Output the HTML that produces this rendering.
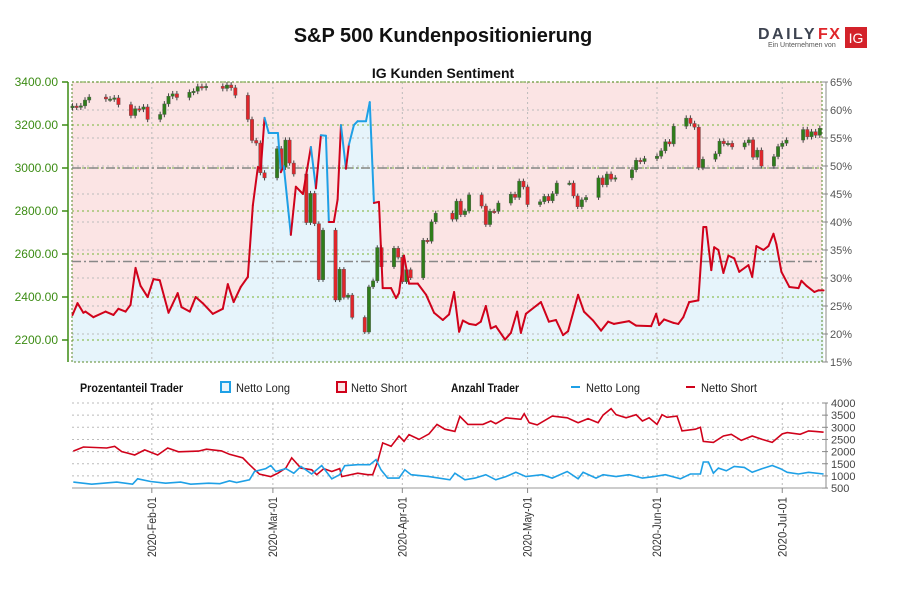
<!DOCTYPE html>
<html><head><meta charset="utf-8"><style>
body{margin:0;background:#fff;}
svg text{font-family:"Liberation Sans",sans-serif;}
.n{font-family:"Liberation Sans Narrow","Liberation Sans",sans-serif;}
</style></head><body>
<svg id="c" width="900" height="600" viewBox="0 0 900 600" xmlns="http://www.w3.org/2000/svg">
<text x="443" y="42" text-anchor="middle" font-size="20" font-weight="bold" fill="#111">S&amp;P 500 Kundenpositionierung</text>
<text x="443" y="78" text-anchor="middle" font-size="14" font-weight="bold" fill="#111">IG Kunden Sentiment</text>
<g>
<text x="758" y="39" font-size="16" font-weight="bold" fill="#3d4350" letter-spacing="2.5">DAILY</text>
<text x="818" y="39" font-size="16" font-weight="bold" fill="#e0262b" letter-spacing="1.5">FX</text>
<text x="768" y="47" font-size="7" fill="#555">Ein Unternehmen von</text>
<rect x="845" y="27" width="22" height="21" fill="#d3222a"/>
<text x="856" y="43" text-anchor="middle" font-size="14" fill="#fff">IG</text>
</g>
<g id="main"></g>
<g id="bottom"></g>
<g font-size="12">
<text class="n" x="80" y="392" font-weight="bold" fill="#111" textLength="103" lengthAdjust="spacingAndGlyphs">Prozentanteil Trader</text>
<rect x="221" y="382" width="9" height="10" fill="#e8f4fb" stroke="#1ea0e6" stroke-width="2"/>
<text class="n" x="236" y="392" fill="#222" textLength="54" lengthAdjust="spacingAndGlyphs">Netto Long</text>
<rect x="337" y="382" width="9" height="10" fill="#fbe4e4" stroke="#d0021b" stroke-width="2"/>
<text class="n" x="351" y="392" fill="#222" textLength="56" lengthAdjust="spacingAndGlyphs">Netto Short</text>
<text class="n" x="451" y="392" font-weight="bold" fill="#111" textLength="68" lengthAdjust="spacingAndGlyphs">Anzahl Trader</text>
<rect x="571" y="386" width="9" height="2" fill="#1ea0e6"/>
<text class="n" x="586" y="392" fill="#222" textLength="54" lengthAdjust="spacingAndGlyphs">Netto Long</text>
<rect x="686" y="386" width="9" height="2" fill="#d0021b"/>
<text class="n" x="701" y="392" fill="#222" textLength="56" lengthAdjust="spacingAndGlyphs">Netto Short</text>
</g>
</svg>
<script>
// price closes per trading day, Jan 13 – Jul 10 2020
const closes=[3288,3283,3289,3316,3330,3321,3321,3326,3295,3244,3276,3273,3284,3226,
3249,3298,3334,3345,3328,3352,3357,3379,3374,3380,3370,3386,3373,3338,3226,3128,3116,2978,2954,
3090,3003,3130,3023,2972,2746,2882,2741,2480,2711,2386,2529,2398,2409,2305,2237,2447,2475,2630,2541,2627,2585,
2471,2527,2489,2664,2659,2750,2790,2762,2846,2783,2800,2875,2823,2737,2799,2798,2837,2878,2863,2939,2912,
2830,2843,2868,2848,2881,2930,2930,2870,2820,2852,2863,2954,2922,2972,2948,2955,2992,3036,3030,3044,
3055,3080,3122,3112,3194,3232,3207,3190,3002,3041,3066,3125,3113,3115,3098,3117,3131,3050,3083,3009,3053,3100,
3115,3130,3179,3145,3169,3152,3185];
const holidays=[7,35,88,133,172];
const priceTicks=[3400,3200,3000,2800,2600,2400,2200];
const pctTicks=[65,60,55,50,45,40,35,30,25,20,15];
const refLevels=[3000,2565];
// sentiment % net long: day offsets & values
const sentDays=[0,1.2,2.6,3.1,5,7.9,9.8,11,12.7,13.9,15.1,16.3,18,19.4,20.9,23,25.2,26.1,28.1,29.5,31.2,33.6,36,37.2,38.6,40.3,42,43.2,44.4,45.1,46,47,49.2,49.9,50.6,52.3,53.5,55.2,57.1,58.3,59.5,60.7,61.4,62.6,63.5,64.3,65.5,66.2,67.4,68.3,70.3,71.2,72.2,73.4,74.3,76.3,77.5,78.2,79.4,80.6,82.7,84.7,86.6,88.7,90.2,91.4,92.6,93.5,95,96.6,97.8,99,100.2,101.4,103.6,105,106.5,107.4,108.6,111,112.2,114.1,115.8,117.5,118.7,121.1,122.5,124.7,126.6,128.3,129.7,133.3,135,138.6,139.8,140.5,141.7,143.9,145.1,146.3,147.7,149.9,151.1,151.8,153,153.7,154.7,155.9,157.1,158.5,159.7,161.9,162.8,163.8,165.5,166.7,167.9,168.6,169.8,171.7,173.9,174.6,175.8,177.7,178.7,179.9];
const sentVals=[23.4,25.5,23.8,24,23,24,23.4,24.5,24,25.2,31.8,28.6,26.6,29.8,29.6,23.8,27.3,24.8,24,26.6,25.5,23.6,24.5,28.9,25.7,28.4,30.2,43,49.8,49.5,58.6,55.9,55.9,48.9,50,37.7,46.3,45,53.4,46,55.5,55.4,40,40,44,57.3,49.5,53.8,57.3,58,58,61.4,43.4,43.6,28.2,28.2,26.4,27.3,34,29,29,27,23.8,22.5,23.5,27.5,20.4,22.4,21.8,21.6,22.2,25,21,21.4,19,20.2,24,20.2,23.6,25,25.7,22.2,22.5,19.8,20.5,27,24,22.4,20.6,22.2,21.8,22.3,21.5,21.4,23.6,21.6,22.6,22,21.8,23,25.7,26,39.1,39.1,31.4,35.5,35,30.9,34,33.5,31.1,32.3,30.2,35.7,35,35.7,37.9,36,31.1,28.4,28.2,29.5,28.6,27.5,27.8,27.8];
// trader counts
const shortDays=[0.2,2.6,8.2,10.1,11.8,14.9,17.3,20.4,22.8,25.4,30.2,32.1,35.7,37.6,40.8,42.4,44.8,47.5,49.2,51.1,52.5,54.7,57.3,58.5,60.2,62.1,64,64.5,68.3,70.7,71.9,73.1,74.3,76.3,78.2,79.4,80.6,83,85.4,87.3,89.2,91.6,92.8,94.7,98.3,100.2,101.4,103.8,107.4,108.2,109.4,111.3,114.9,118.5,121.1,123.5,125.9,127.1,129,130.2,132.6,135,136.5,138.1,140,141.2,142.4,144.8,146,149.2,150.4,151.1,153.5,155.9,157.8,160.2,162.8,165.2,167.6,170,171.2,174.3,176.3,177.9,179.9];
const shortVals=[2022,2190,2150,2220,2000,1860,2070,1860,2150,1990,2020,2100,2030,1890,1740,1460,1070,970,1110,1320,1740,1320,1250,1050,1300,1180,1300,970,1110,1050,1050,1600,2360,2220,2640,2420,2700,2500,2730,3120,2920,2830,3450,3120,3120,3260,3150,3390,3330,3560,3190,3100,3460,3390,3190,3360,3190,3500,3770,3520,3390,3520,3260,3390,3120,3520,3410,3460,2850,2920,3000,2420,2380,2640,2710,2460,2640,2500,2380,2730,2780,2710,2850,2830,2800];
const longDays=[0.2,4.6,10.6,14.4,15.6,18.7,22.3,25.9,28.3,32.6,35.3,37.6,39.3,42.4,43.6,46.3,47.5,48.7,51.1,53,54.7,57.3,59.7,62.1,64,65.2,68.3,71.2,72.7,73.9,75.5,78.2,79.6,81.1,85.4,90.4,91.6,94,96.4,99,101.4,103.8,106.2,108.6,112.5,114.9,118.5,121.1,122.3,125.4,127.1,130.2,133.3,136.5,139.3,142,145.6,148,150.4,151.1,152.3,153.5,154.7,156.6,158.5,160.9,162.8,165.2,167.6,169.5,171.2,173.9,176.3,179.9];
const longVals=[745,660,745,660,880,770,700,745,660,700,680,800,730,840,1180,1300,1430,1180,1300,1110,1390,1080,1430,880,1050,1420,1460,1460,1670,1250,910,910,1250,1050,970,840,1110,840,910,1050,840,970,1150,970,1050,910,1180,880,1150,910,1050,970,1050,910,970,1050,880,1080,1080,1570,1570,1110,1320,1210,1390,1350,1150,1300,1430,1300,1150,1080,1150,1080];
const countTicks=[4000,3500,3000,2500,2000,1500,1000,500];
const monthDays=[19,48,79,109,140,170];
const monthLabels=["2020-Feb-01","2020-Mar-01","2020-Apr-01","2020-May-01","2020-Jun-01","2020-Jul-01"];

const NS="http://www.w3.org/2000/svg";
const X0=72,X1=822,Y0=82,Y1=362;
const xD=d=>72.5+d*4.175;
const yP=p=>82+(3400-p)*0.215;
const yS=v=>82+(65-v)*5.6;
const yC=n=>403+(4000-n)*0.0243;
function mk(tag,attrs,parent){const e=document.createElementNS(NS,tag);for(const k in attrs)e.setAttribute(k,attrs[k]);parent.appendChild(e);return e;}
const main=document.getElementById('main'),bot=document.getElementById('bottom');

let bg=mk('rect',{x:X0,y:Y0,width:X1-X0,height:Y1-Y0,fill:'#fbe4e4'},main);


let pts=sentDays.map((d,i)=>xD(d).toFixed(1)+','+yS(sentVals[i]).toFixed(1));
let area=mk('polygon',{points:xD(sentDays[0])+','+Y1+' '+pts.join(' ')+' '+xD(sentDays[sentDays.length-1])+','+Y1,fill:'#e6f4fb'},main);



pctTicks.forEach(v=>{const y=yS(v);
 if(v!==65&&v!==15){mk('line',{x1:X0,x2:X1,y1:y,y2:y,stroke:'#bbb','stroke-dasharray':'2,3','stroke-width':1},main);}
 mk('line',{x1:822,x2:828,y1:y,y2:y,stroke:'#888'},main);
 const t=mk('text',{x:830,y:y+4,'font-size':11,fill:'#555'},main);t.textContent=v+'%';
 
 
});
mk('line',{x1:826,x2:826,y1:Y0,y2:Y1,stroke:'#888'},main);
monthDays.forEach(d=>{const x=xD(d);
 mk('line',{x1:x,x2:x,y1:Y0,y2:Y1,stroke:'#bbb','stroke-dasharray':'2,3'},main);
 mk('line',{x1:x,x2:x,y1:403,y2:488,stroke:'#bbb','stroke-dasharray':'2,3'},bot);
});
priceTicks.forEach(p=>{const y=yP(p);
 mk('line',{x1:X0,x2:X1,y1:y,y2:y,stroke:'#8fbf5a','stroke-dasharray':'2,3','stroke-width':1.2},main);
 mk('line',{x1:62,x2:68,y1:y,y2:y,stroke:'#3c8c14','stroke-width':1.5},main);
 const t=mk('text',{x:58,y:y+4,'font-size':12,fill:'#3c8c14','text-anchor':'end'},main);t.textContent=p.toFixed(2);
 
 
});
mk('line',{x1:68,x2:68,y1:Y0,y2:Y1,stroke:'#3c8c14','stroke-width':1.5},main);
mk('rect',{x:X0,y:Y0,width:X1-X0,height:Y1-Y0,fill:'none',stroke:'#5a8a2a','stroke-dasharray':'2,2'},main);
refLevels.forEach(p=>{const y=yP(p);
 const l=mk('line',{x1:X0,x2:X1,y1:y,y2:y,stroke:'#888','stroke-dasharray':'9,3,2,3','stroke-width':1.5},main);
 
 
});

let day=0,idx=0,prev=3280;
const cg=mk('g',{},main);


while(idx<closes.length){
 const wd=day%7;
 if(wd<5&&holidays.indexOf(day)<0){
  const c=closes[idx],o=prev,x=xD(day);
  const hi=Math.max(o,c)*1.004,lo=Math.min(o,c)*0.996;
  mk('line',{x1:x,x2:x,y1:yP(hi),y2:yP(lo),stroke:'#444','stroke-width':1},cg);
  const top=yP(Math.max(o,c)),h=Math.max(1.5,yP(Math.min(o,c))-top);
  const r=mk('rect',{x:x-1.7,y:top,width:3.4,height:h,fill:c>=o?'#2f7d1a':'#e0262b',stroke:'#555','stroke-width':0.4},cg);
  
  
  prev=c;idx++;
 }
 day++;
}
for(let i=0;i<sentDays.length-1;i++){
 const s=mk('line',{x1:xD(sentDays[i]),y1:yS(sentVals[i]),x2:xD(sentDays[i+1]),y2:yS(sentVals[i+1]),stroke:sentVals[i]>=50?'#1ea0e6':'#d0021b','stroke-width':2,'stroke-linecap':'round'},main);
 
 
}

countTicks.forEach(n=>{const y=yC(n);
 mk('line',{x1:X0,x2:X1,y1:y,y2:y,stroke:'#bbb','stroke-dasharray':'2,3'},bot);
 mk('line',{x1:822,x2:828,y1:y,y2:y,stroke:'#888'},bot);
 const t=mk('text',{x:831,y:y+4,'font-size':11,fill:'#444'},bot);t.textContent=n;
 
 
});
mk('line',{x1:826,x2:826,y1:403,y2:488,stroke:'#888'},bot);
mk('line',{x1:X0,x2:X1,y1:488,y2:488,stroke:'#999'},bot);
const sl=mk('polyline',{points:shortDays.map((d,i)=>xD(d).toFixed(1)+','+yC(shortVals[i]).toFixed(1)).join(' '),fill:'none',stroke:'#d0021b','stroke-width':1.6},bot);


const ll=mk('polyline',{points:longDays.map((d,i)=>xD(d).toFixed(1)+','+yC(longVals[i]).toFixed(1)).join(' '),fill:'none',stroke:'#1ea0e6','stroke-width':1.6},bot);


monthDays.forEach((d,i)=>{const x=xD(d);
 mk('line',{x1:x,x2:x,y1:488,y2:493,stroke:'#888'},bot);
 const t=mk('text',{x:0,y:0,'font-size':12,fill:'#333','text-anchor':'end',textLength:60,lengthAdjust:'spacingAndGlyphs',transform:'translate('+(x+4)+',497) rotate(-90)'},bot);
 t.textContent=monthLabels[i];
 
 
});
</script>
</body></html>
